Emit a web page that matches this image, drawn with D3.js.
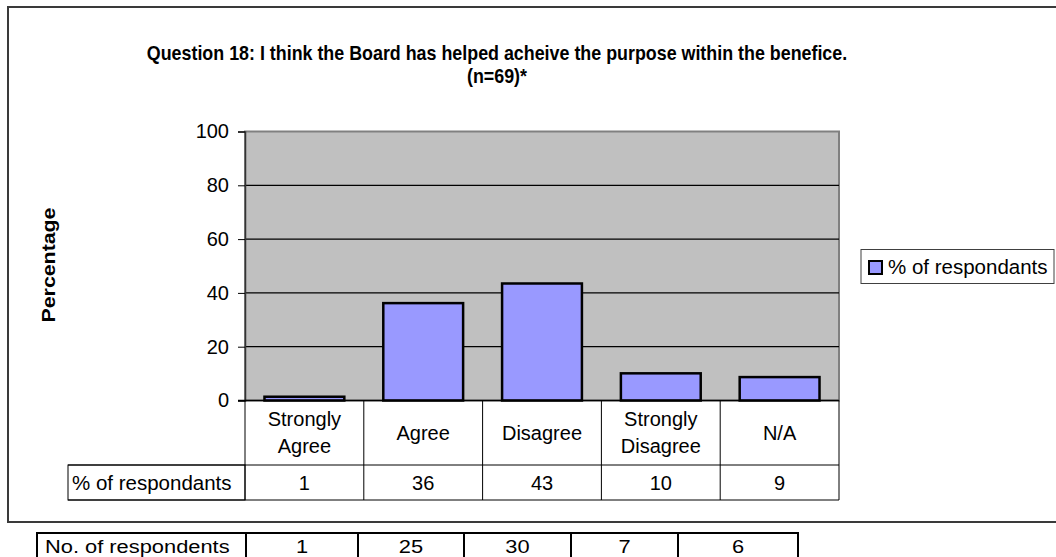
<!DOCTYPE html>
<html><head><meta charset="utf-8">
<script src="https://cdn.jsdelivr.net/npm/d3@7"></script>
<style>
body{margin:0;background:#fff}
svg{display:block}
text{font-family:"Liberation Sans",Arial,Helvetica,sans-serif;fill:#000}
</style>
</head><body>
<svg id="chart" width="1056" height="557"></svg>
<script>
// ---------- data ----------
const categories = ["Strongly Agree", "Agree", "Disagree", "Strongly Disagree", "N/A"];
const percentValues = [1.4, 36.2, 43.5, 10.1, 8.7];
const percentLabels = ["1", "36", "43", "10", "9"];
const respondentCounts = ["1", "25", "30", "7", "6"];
const yTicks = [0, 20, 40, 60, 80, 100];
const seriesName = "% of respondants";
const countRowLabel = "No. of respondents";
const titleLines = ["Question 18: I think the Board has helped acheive the purpose within the benefice.", "(n=69)*"];
const yAxisTitle = "Percentage";

// ---------- layout ----------
const L = {
  plotLeft: 245, plotRight: 839, plotTop: 131.5, plotBottom: 400.5,
  catRowBottom: 465, dataRowBottom: 500, rowLabelLeft: 68,
  countTableEdges: [37, 246, 358, 464, 571, 678, 798], countTableTop: 533
};
const barFill = "#9999FF";

const svg = d3.select("#chart");

// outer chart border
svg.append("rect").attr("x", 8).attr("y", 7).attr("width", 1070).attr("height", 515)
  .attr("fill", "#fff").attr("stroke", "#3a3a3a").attr("stroke-width", 2);

// scales
const y = d3.scaleLinear().domain([0, 100]).range([L.plotBottom, L.plotTop]);
const xCol = d3.scaleBand().domain(categories).range([L.plotLeft, L.plotRight]).padding(0);
const xBar = d3.scaleBand().domain(categories).range([L.plotLeft, L.plotRight])
  .paddingInner(0.328).paddingOuter(0.164);

// plot area
svg.append("rect").attr("x", L.plotLeft).attr("y", L.plotTop)
  .attr("width", L.plotRight - L.plotLeft).attr("height", L.plotBottom - L.plotTop)
  .attr("fill", "#C0C0C0").attr("stroke", "#808080").attr("stroke-width", 2);

// gridlines
svg.append("g").selectAll("line").data(yTicks.filter(t => t > 0 && t < 100)).join("line")
  .attr("x1", L.plotLeft).attr("x2", L.plotRight)
  .attr("y1", d => y(d)).attr("y2", d => y(d))
  .attr("stroke", "#000").attr("stroke-width", 1.2);

// bars
svg.append("g").selectAll("rect").data(categories).join("rect")
  .attr("x", d => xBar(d)).attr("width", xBar.bandwidth())
  .attr("y", (d, i) => y(percentValues[i]))
  .attr("height", (d, i) => y(0) - y(percentValues[i]))
  .attr("fill", barFill).attr("stroke", "#000").attr("stroke-width", 2.5);

// y axis
const yAxis = d3.axisLeft(y).tickValues(yTicks).tickSize(7).tickPadding(9);
const gy = svg.append("g").attr("transform", `translate(${L.plotLeft},0)`).call(yAxis);
gy.select(".domain").attr("stroke", "#333").attr("stroke-width", 1.5);
gy.selectAll(".tick line").attr("stroke", "#000");
gy.selectAll(".tick text").style("font-size", "20px").attr("fill", "#000")
  .style("font-family", '"Liberation Sans",Arial,sans-serif');

// y axis title
svg.append("text").attr("transform", "translate(48,265) rotate(-90)")
  .attr("text-anchor", "middle").attr("dominant-baseline", "central")
  .attr("font-weight", "bold").style("font-size", "19px")
  .attr("textLength", 115).attr("lengthAdjust", "spacingAndGlyphs")
  .text(yAxisTitle);

// title
titleLines.forEach((t, i) => {
  svg.append("text")
    .attr("transform", `translate(497,${60 + i * 23}) scale(0.893,1)`)
    .attr("text-anchor", "middle").attr("font-weight", "bold").style("font-size", "20px")
    .text(t);
});

// data table (under x axis)
const tbl = svg.append("g");
const lineColor = "#000";
tbl.append("line").attr("x1", L.plotLeft - 7).attr("x2", L.plotRight)
  .attr("y1", L.plotBottom).attr("y2", L.plotBottom).attr("stroke", "#000").attr("stroke-width", 1.5);
const colEdges = categories.map(c => xCol(c)).concat([L.plotRight]);
tbl.selectAll("line.v").data(colEdges).join("line").attr("class", "v")
  .attr("x1", d => d).attr("x2", d => d)
  .attr("y1", L.plotBottom).attr("y2", L.dataRowBottom)
  .attr("stroke", lineColor).attr("stroke-width", 1);
tbl.append("rect").attr("x", L.rowLabelLeft).attr("y", L.catRowBottom)
  .attr("width", L.plotLeft - L.rowLabelLeft).attr("height", L.dataRowBottom - L.catRowBottom)
  .attr("fill", "none").attr("stroke", lineColor).attr("stroke-width", 1);
tbl.append("line").attr("x1", L.rowLabelLeft).attr("x2", L.plotRight)
  .attr("y1", L.catRowBottom).attr("y2", L.catRowBottom).attr("stroke", lineColor).attr("stroke-width", 1);
tbl.append("line").attr("x1", L.rowLabelLeft).attr("x2", L.plotRight)
  .attr("y1", L.dataRowBottom).attr("y2", L.dataRowBottom).attr("stroke", lineColor).attr("stroke-width", 1);

// category labels
const catMid = (L.plotBottom + L.catRowBottom) / 2;
categories.forEach(c => {
  const lines = c.startsWith("Strongly ") ? ["Strongly", c.slice(9)] : [c];
  const cx = xCol(c) + xCol.bandwidth() / 2;
  lines.forEach((ln, j) => {
    const off = (j - (lines.length - 1) / 2) * 26.6;
    tbl.append("text").attr("x", cx).attr("y", catMid + off + 7)
      .attr("text-anchor", "middle").style("font-size", "20px").text(ln);
  });
});
// data row
const dataMid = (L.catRowBottom + L.dataRowBottom) / 2;
tbl.append("text").attr("x", L.rowLabelLeft + 4).attr("y", dataMid + 7)
  .style("font-size", "20.5px").text(seriesName);
categories.forEach((c, i) => {
  tbl.append("text").attr("x", xCol(c) + xCol.bandwidth() / 2).attr("y", dataMid + 7)
    .attr("text-anchor", "middle").style("font-size", "20px").text(percentLabels[i]);
});

// legend
const lg = svg.append("g");
lg.append("rect").attr("x", 861).attr("y", 249.5).attr("width", 193).attr("height", 34)
  .attr("fill", "#fff").attr("stroke", "#404040").attr("stroke-width", 1);
lg.append("rect").attr("x", 869).attr("y", 261).attr("width", 13).attr("height", 13)
  .attr("fill", barFill).attr("stroke", "#000").attr("stroke-width", 2);
lg.append("text").attr("x", 888).attr("y", 274).style("font-size", "20.5px").text(seriesName);

// respondent count table (below chart)
const E = L.countTableEdges;
const ct = svg.append("g");
ct.append("rect").attr("x", E[0]).attr("y", L.countTableTop).attr("width", E[E.length - 1] - E[0]).attr("height", 40)
  .attr("fill", "#fff").attr("stroke", "#000").attr("stroke-width", 2);
ct.selectAll("line").data(E.slice(1, -1)).join("line")
  .attr("x1", d => d).attr("x2", d => d).attr("y1", L.countTableTop).attr("y2", L.countTableTop + 40)
  .attr("stroke", "#000").attr("stroke-width", 2);
ct.append("text").attr("transform", `translate(${E[0] + 8},553) scale(1.15,1)`)
  .style("font-size", "19px").text(countRowLabel);
respondentCounts.forEach((v, i) => {
  ct.append("text").attr("transform", `translate(${(E[i + 1] + E[i + 2]) / 2},553) scale(1.15,1)`)
    .attr("text-anchor", "middle").style("font-size", "19px").text(v);
});
</script>
</body></html>
